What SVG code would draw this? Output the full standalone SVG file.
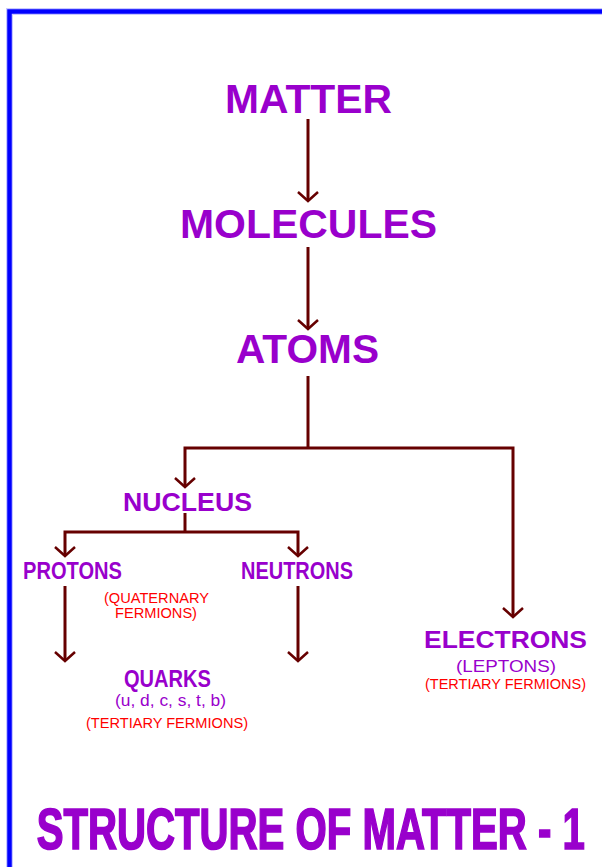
<svg xmlns="http://www.w3.org/2000/svg" width="602" height="867" viewBox="0 0 602 867">
<style>
  text { font-family: "Liberation Sans", Arial, sans-serif; text-anchor: middle; }
  .big { font-size: 40px; font-weight: bold; fill: #9900cc; }
  .mid { font-size: 24px; font-weight: bold; fill: #9900cc; }
  .sub { font-size: 16px; fill: #9900cc; }
  .red { font-size: 14px; fill: #ff0000; }
  .conn { fill: none; stroke: #660000; stroke-width: 3; }
  .title { font-size: 40px; font-weight: bold; fill: #9900cc; stroke: #9900cc; stroke-width: 1.2; }
</style>
<defs>
  <marker id="arr" markerUnits="userSpaceOnUse" markerWidth="24" markerHeight="24" refX="0" refY="0" viewBox="-12 -12 24 24" orient="auto" overflow="visible">
    <path d="M-9,-10 L0,0 L-9,10" fill="none" stroke="#660000" stroke-width="2.5"/>
  </marker>
</defs>
<rect width="602" height="867" fill="#ffffff"/>
<g id="border">
  <path d="M9.5,867 V11.5 H602" fill="none" stroke="#c8c8ff" stroke-width="7"/>
  <path d="M9.5,867 V11.5 H602" fill="none" stroke="#0000ff" stroke-width="4.5"/>
</g>
<g id="connectors">
  <path class="conn" d="M308,119 V201" marker-end="url(#arr)"/>
  <path class="conn" d="M308,247 V329" marker-end="url(#arr)"/>
  <path class="conn" d="M308,376 V448"/>
  <path class="conn" d="M308,448 H185 V487" marker-end="url(#arr)"/>
  <path class="conn" d="M308,448 H513 V617" marker-end="url(#arr)"/>
  <path class="conn" d="M185,513 V532"/>
  <path class="conn" d="M185,532 H65 V556" marker-end="url(#arr)"/>
  <path class="conn" d="M185,532 H298 V556" marker-end="url(#arr)"/>
  <path class="conn" d="M65,586 V661" marker-end="url(#arr)"/>
  <path class="conn" d="M298,586 V661" marker-end="url(#arr)"/>
</g>
<g id="matter"><text class="big" x="308.5" y="113" textLength="167" lengthAdjust="spacingAndGlyphs">MATTER</text></g>
<g id="molecules"><text class="big" x="308.5" y="238" textLength="257" lengthAdjust="spacingAndGlyphs">MOLECULES</text></g>
<g id="atoms"><text class="big" x="307.5" y="363" textLength="143" lengthAdjust="spacingAndGlyphs">ATOMS</text></g>
<g id="nucleus"><text class="mid" style="font-size:25px" x="187.5" y="511" textLength="129" lengthAdjust="spacingAndGlyphs">NUCLEUS</text></g>
<g id="protons">
  <text class="mid" x="72.5" y="579" textLength="99" lengthAdjust="spacingAndGlyphs">PROTONS</text>
  <text class="red" x="156.5" y="603" textLength="105" lengthAdjust="spacingAndGlyphs">(QUATERNARY</text>
  <text class="red" x="156" y="618" textLength="82" lengthAdjust="spacingAndGlyphs">FERMIONS)</text>
</g>
<g id="neutrons"><text class="mid" x="297" y="579" textLength="112" lengthAdjust="spacingAndGlyphs">NEUTRONS</text></g>
<g id="quarks">
  <text class="mid" style="font-size:23px" x="167.5" y="687" textLength="87" lengthAdjust="spacingAndGlyphs">QUARKS</text>
  <text class="sub" x="170.5" y="706" textLength="111" lengthAdjust="spacingAndGlyphs">(u, d, c, s, t, b)</text>
  <text class="red" x="167" y="728" textLength="162" lengthAdjust="spacingAndGlyphs">(TERTIARY FERMIONS)</text>
</g>
<g id="electrons">
  <text class="mid" style="font-size:23px" x="505.5" y="648" textLength="163" lengthAdjust="spacingAndGlyphs">ELECTRONS</text>
  <text class="sub" style="font-size:17px" x="506" y="672" textLength="100" lengthAdjust="spacingAndGlyphs">(LEPTONS)</text>
  <text class="red" x="505.5" y="689" textLength="161" lengthAdjust="spacingAndGlyphs">(TERTIARY FERMIONS)</text>
</g>
<g id="title">
  <text class="title" transform="translate(310.75,849) scale(1,1.45)" x="0" y="0" textLength="548" lengthAdjust="spacingAndGlyphs">STRUCTURE OF MATTER - 1</text>
</g>
</svg>
